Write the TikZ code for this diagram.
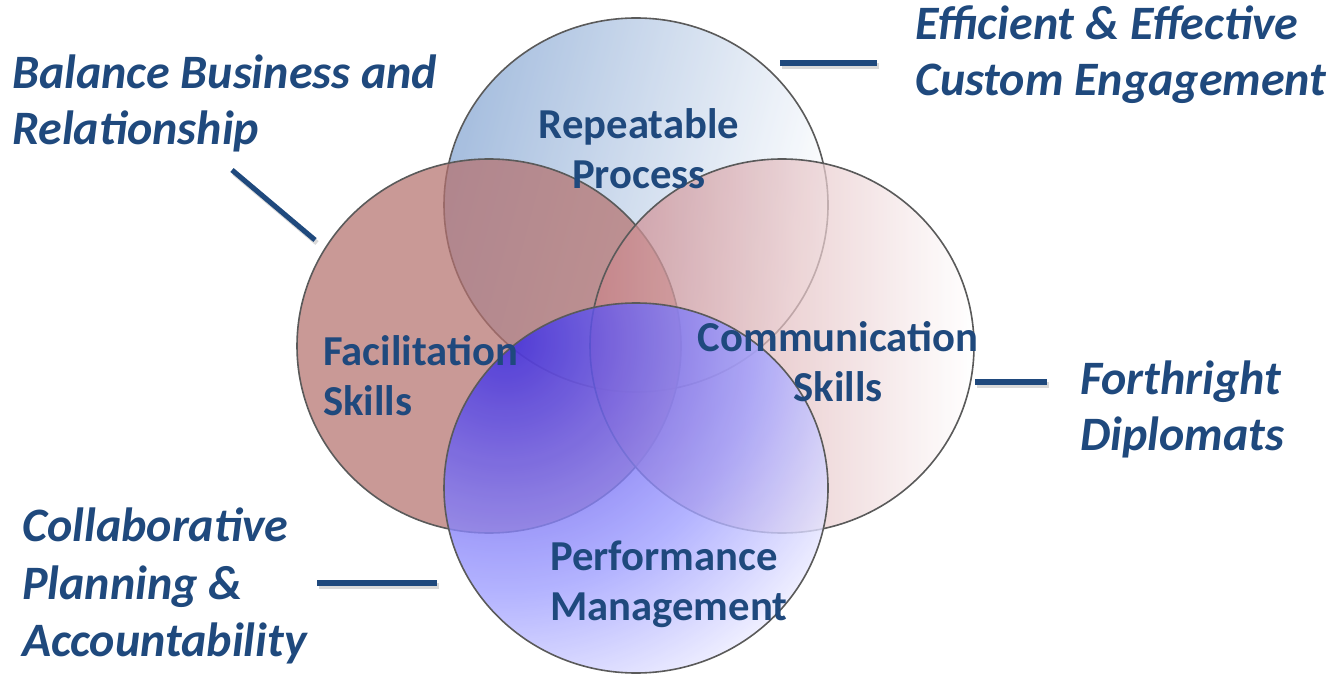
\documentclass[tikz,border=0pt]{standalone}
\usepackage{fontspec}
\usetikzlibrary{shadings}
\setmainfont{Carlito}
\definecolor{txtblue}{HTML}{1F497D}
\definecolor{topblue}{HTML}{84A5D2}
\definecolor{leftrose}{HTML}{B4716E}
\definecolor{rightrose}{HTML}{C98287}
\definecolor{botdeep}{HTML}{3526E6}
\definecolor{botmidA}{HTML}{6A60F0}
\definecolor{botmid}{HTML}{A0A0FF}
\definecolor{outline}{HTML}{5A5A5A}
\pgfdeclareradialshading{botrad}{\pgfpointorigin}{color(0bp)=(botdeep); color(7bp)=(botmidA); color(15bp)=(botmid); color(25bp)=(white); color(50bp)=(white)}
\tikzset{
  ring/.style={draw=outline, line width=1.2pt, fill opacity=0.72},
  inner/.style={text=txtblue, font=\fontsize{32}{37.5}\selectfont\bfseries, inner sep=0pt},
  outer/.style={text=txtblue, font=\fontsize{36}{42}\selectfont\bfseries\itshape, inner sep=0pt, align=left, anchor=west},
  lead/.style={draw=txtblue, line width=3.8pt},
  leadshadow/.style={draw=black!25, line width=3.8pt, opacity=0.6}
}
\begin{document}
\begin{tikzpicture}[x=0.75pt,y=0.75pt]
\useasboundingbox (0,0) rectangle (1333,675);
% circles
\shade[ring, left color=topblue, right color=white, shading angle=75]
  (636,470) ellipse [x radius=192, y radius=187];
\fill[ring, fill=leftrose] (489,329) ellipse [x radius=192, y radius=187];
\shade[ring, left color=rightrose, right color=white]
  (782,329) ellipse [x radius=192, y radius=187];
\begin{scope}
  \clip (636,187) ellipse [x radius=192, y radius=185];
  \shade[shading=botrad, fill opacity=0.8] (505,335) circle (420);
\end{scope}
\draw[draw=outline, line width=1.2pt] (636,187) ellipse [x radius=192, y radius=185];
% circle labels
\node[inner, align=center] (rep) at (639,526) {Repeatable\\Process};
\node[inner, align=left, anchor=west] (fac) at (323,299) {Facilitation\\Skills};
\node[inner, align=center] (com) at (838,313) {Communication\\Skills};
\node[inner, align=left, anchor=west] (perf) at (550,91) {Performance\\Management};
% outer labels
\node[outer] (bal) at (12,572) {Balance Business and\\Relationship};
\node[outer] (eff) at (915,620) {Efficient \& Effective\\Custom Engagement};
\node[outer] (fort) at (1080,266) {Forthright\\Diplomats};
\node[outer, font=\fontsize{36}{43}\selectfont\bfseries\itshape] (col) at (22,89) {Collaborative\\Planning \&\\Accountability};
% leader lines
\coordinate (b1) at (232,505); \coordinate (b2) at (315,435);
\coordinate (e1) at (780,612); \coordinate (e2) at (877,612);
\coordinate (f1) at (975,293); \coordinate (f2) at (1047,293);
\coordinate (c1) at (317,92);  \coordinate (c2) at (437,92);
\foreach \a/\b in {b1/b2,e1/e2,f1/f2,c1/c2}{
  \draw[leadshadow] ([shift={(2,-3)}]\a) -- ([shift={(2,-3)}]\b);
  \draw[lead] (\a) -- (\b);
}
\end{tikzpicture}
\end{document}
